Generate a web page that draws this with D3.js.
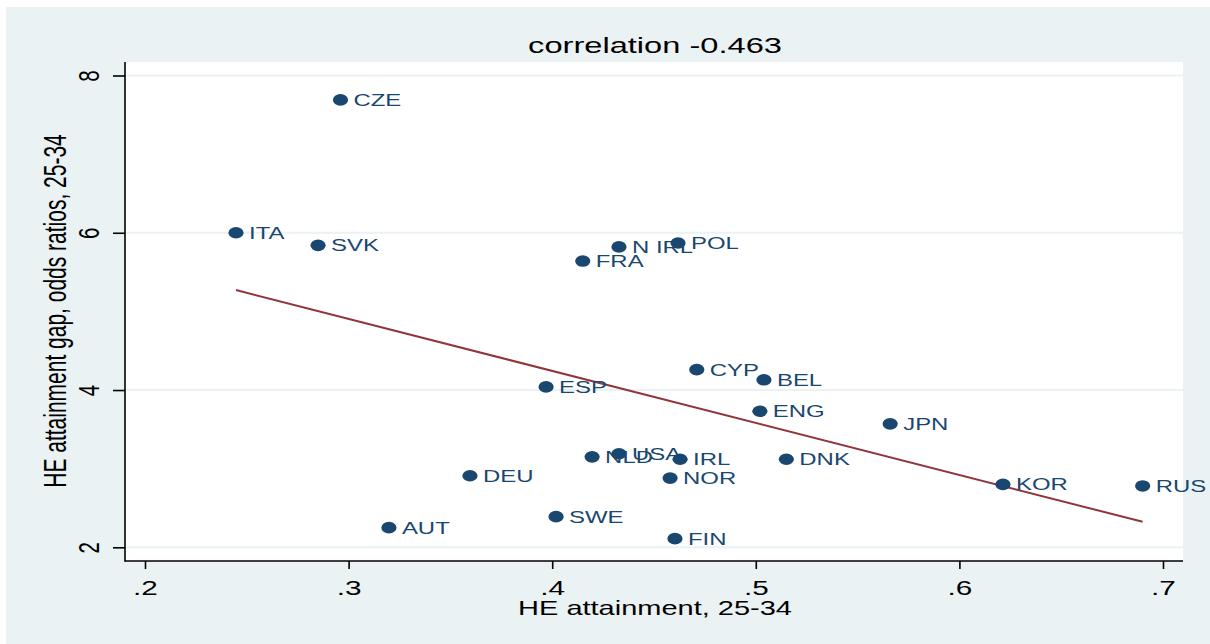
<!DOCTYPE html>
<html>
<head>
<meta charset="utf-8">
<script src="https://cdn.jsdelivr.net/npm/d3@7"></script>
<style>
	body { margin: 0; background: #fff; }
	svg { display: block; font-family: "Liberation Sans", Arial, sans-serif; }
</style>
</head>
<body>
<div id="chart"></div>
<script>
// data
var countries = ['CZE', 'ITA', 'SVK', 'N IRL', 'POL', 'FRA', 'ESP', 'CYP', 'BEL', 'ENG', 'JPN',
	'USA', 'NLD', 'IRL', 'DNK', 'DEU', 'NOR', 'KOR', 'RUS', 'SWE', 'AUT', 'FIN'];
var attainment = [0.296, 0.2447, 0.285, 0.4328, 0.4618, 0.415, 0.397, 0.471, 0.504, 0.502, 0.566,
	0.4328, 0.4196, 0.4628, 0.515, 0.3596, 0.4579, 0.6214, 0.690, 0.4019, 0.3198, 0.4603];
var gap = [7.69, 6.00, 5.84, 5.82, 5.87, 5.64, 4.04, 4.26, 4.13, 3.73, 3.57,
	3.19, 3.15, 3.12, 3.12, 2.91, 2.88, 2.80, 2.78, 2.39, 2.25, 2.11];
var xTicks = [0.2, 0.3, 0.4, 0.5, 0.6, 0.7];
var yTicks = [2, 4, 6, 8];
var chartTitle = 'correlation -0.463';
var xTitle = 'HE attainment, 25-34';
var yTitle = 'HE attainment gap, odds ratios, 25-34';

var W = 1210, H = 644;
var SX = 1.45; // picture is stretched sideways, so text gets widened too
var plot = { l: 125, r: 1183, t: 62, b: 561 };
var navy = '#1a476f', maroon = '#90353b', bg = '#eaf2f3';

var svg = d3.select('#chart').append('svg').attr('width', W).attr('height', H);

// graph region + plot region
svg.append('rect').attr('x', 6).attr('y', 7).attr('width', W - 6).attr('height', H - 7).attr('fill', bg);
svg.append('rect').attr('x', plot.l).attr('y', plot.t).attr('width', plot.r - plot.l).attr('height', plot.b - plot.t).attr('fill', '#fff');

var x = d3.scaleLinear().domain([0.2, 0.7]).range([145, 1163]);
var y = d3.scaleLinear().domain([2, 8]).range([547.3, 75.5]);

// grid
svg.append('g').selectAll('line').data(yTicks).enter().append('line')
	.attr('x1', plot.l).attr('x2', plot.r)
	.attr('y1', d => y(d)).attr('y2', d => y(d))
	.attr('stroke', bg).attr('stroke-width', 2);

// axes
var gx = svg.append('g').attr('class', 'x-axis').attr('transform', 'translate(0,' + plot.b + ')')
	.call(d3.axisBottom(x).tickValues(xTicks).tickSize(8).tickSizeOuter(0)
		.tickFormat(d => d3.format('.1f')(d).replace(/^0/, '')));
var gy = svg.append('g').attr('class', 'y-axis').attr('transform', 'translate(' + plot.l + ',0)')
	.call(d3.axisLeft(y).tickValues(yTicks).tickSize(12).tickSizeOuter(0).tickFormat(d3.format('d')));

[gx, gy].forEach(function (g) {
	g.select('.domain').remove();
	g.selectAll('line').attr('stroke', '#000').attr('stroke-width', 1.6);
	g.selectAll('text').attr('fill', '#000').attr('font-size', 20.5).attr('font-family', null);
});
gx.selectAll('text').attr('y', null).attr('dy', null)
	.attr('transform', 'translate(0,34) scale(' + SX + ',1)');
gy.selectAll('text').attr('x', null).attr('dy', null).attr('text-anchor', 'middle')
	.attr('transform', 'translate(-26,0) rotate(-90) scale(1,' + SX + ')');

svg.append('line').attr('x1', plot.l).attr('x2', plot.l).attr('y1', plot.t).attr('y2', plot.b + 0.8)
	.attr('stroke', '#000').attr('stroke-width', 1.6);
svg.append('line').attr('x1', plot.l).attr('x2', plot.r).attr('y1', plot.b).attr('y2', plot.b)
	.attr('stroke', '#000').attr('stroke-width', 1.6);

// linear fit
var mx = d3.mean(attainment), my = d3.mean(gap);
var sxy = d3.sum(attainment, (v, i) => (v - mx) * (gap[i] - my));
var sxx = d3.sum(attainment, v => (v - mx) * (v - mx));
var slope = sxy / sxx, icpt = my - slope * mx;
var ext = d3.extent(attainment);
svg.append('path')
	.attr('d', d3.line()(ext.map(v => [x(v), y(icpt + slope * v)])))
	.attr('stroke', maroon).attr('stroke-width', 2).attr('fill', 'none');

// points and labels
var pts = svg.append('g').selectAll('g').data(countries).enter().append('g');
pts.append('ellipse')
	.attr('cx', (d, i) => x(attainment[i])).attr('cy', (d, i) => y(gap[i]))
	.attr('rx', 7.6).attr('ry', 5.8).attr('fill', navy);
pts.append('text').text(d => d)
	.attr('transform', (d, i) => 'translate(' + (x(attainment[i]) + 13) + ',' + (y(gap[i]) + 6) + ') scale(' + SX + ',1)')
	.attr('font-size', 16.5).attr('fill', navy);

// titles
svg.append('text').text(chartTitle).attr('text-anchor', 'middle').attr('font-size', 22.5).attr('fill', '#000')
	.attr('transform', 'translate(655,53) scale(' + SX + ',1)');
svg.append('text').text(xTitle).attr('text-anchor', 'middle').attr('font-size', 20).attr('fill', '#000')
	.attr('transform', 'translate(655,615) scale(' + SX + ',1)');
svg.append('text').text(yTitle).attr('text-anchor', 'middle').attr('font-size', 21).attr('fill', '#000')
	.attr('transform', 'translate(66,311) rotate(-90) scale(1,' + SX + ')');
</script>
</body>
</html>
